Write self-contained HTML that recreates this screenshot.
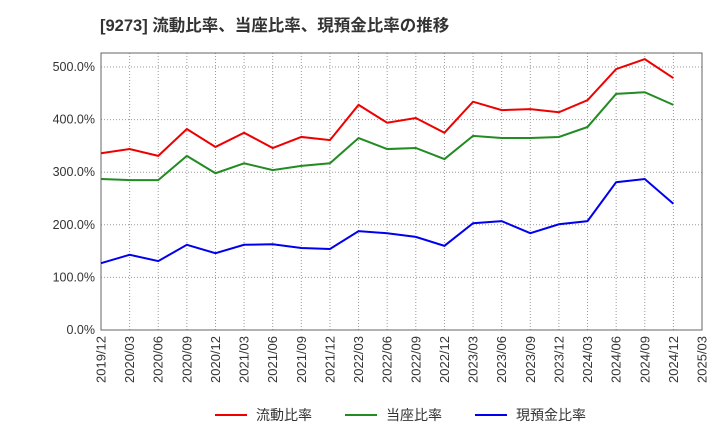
<!DOCTYPE html>
<html><head><meta charset="utf-8"><style>
body{margin:0;background:#fff;width:720px;height:440px;overflow:hidden;font-family:"Liberation Sans","Noto Sans CJK JP",sans-serif}
</style></head><body>
<svg id="chart" width="720" height="440" xmlns="http://www.w3.org/2000/svg" font-family="Liberation Sans, Noto Sans CJK JP, sans-serif">
<text x="100" y="31" font-size="16.5" font-weight="bold" fill="#333">[9273]  流動比率、当座比率、現預金比率の推移</text>
<g id="grid"></g><g id="axes"></g><g id="series"></g>
<g>
<line x1="215" y1="415" x2="247" y2="415" stroke="#e00" stroke-width="2"/><text x="256" y="420" font-size="14" fill="#333">流動比率</text>
<line x1="345" y1="415" x2="377" y2="415" stroke="#228b22" stroke-width="2"/><text x="386" y="420" font-size="14" fill="#333">当座比率</text>
<line x1="475" y1="415" x2="507" y2="415" stroke="#00e" stroke-width="2"/><text x="516" y="420" font-size="14" fill="#333">現預金比率</text>
</g>
</svg>
<script>
const categories=["2019/12","2020/03","2020/06","2020/09","2020/12","2021/03","2021/06","2021/09","2021/12","2022/03","2022/06","2022/09","2022/12","2023/03","2023/06","2023/09","2023/12","2024/03","2024/06","2024/09","2024/12","2025/03"];
const currentRatio=[336,344,331,382,348,375,346,367,361,428,394,403,375,434,418,420,414,437,496,515,479];
const quickRatio=[287,285,285,331,298,317,304,312,317,365,344,346,325,369,365,365,367,386,449,452,428];
const cashRatio=[127,143,131,162,146,162,163,156,154,188,184,177,160,203,207,184,201,207,281,287,240];
const yTicks=[0,100,200,300,400,500];
const L=101,R=702,T=53,B=330;
const xs=i=>L+(R-L)*i/(categories.length-1);
const ys=v=>B-(B-67)*v/500;
const NS="http://www.w3.org/2000/svg";
function mk(tag,attrs,parent){const e=document.createElementNS(NS,tag);for(const k in attrs)e.setAttribute(k,attrs[k]);document.getElementById(parent).appendChild(e);return e;}
yTicks.forEach(v=>{
 const l=mk("line",{x1:L,x2:R,y1:ys(v),y2:ys(v),stroke:"#999","stroke-dasharray":"1,2"},"grid");
 
 
 const t=mk("text",{x:L-6,y:ys(v)+4,"text-anchor":"end","font-size":"12.5",fill:"#333"},"axes");
 t.textContent=v.toFixed(1)+"%";
 
 
});
categories.forEach((c,i)=>{
 const l=mk("line",{x1:xs(i),x2:xs(i),y1:T,y2:B,stroke:"#999","stroke-dasharray":"1,2"},"grid");
 
 
 const t=mk("text",{x:0,y:0,transform:`translate(${xs(i)+4.5},${B+6}) rotate(-90)`,"text-anchor":"end","font-size":"13",fill:"#333"},"axes");
 t.textContent=c;
 
 
});
const fr=mk("rect",{x:L,y:T,width:R-L,height:B-T,fill:"none",stroke:"#666"},"axes");


[[currentRatio,"#e00","current-ratio-line"],[quickRatio,"#228b22","quick-ratio-line"],[cashRatio,"#00e","cash-ratio-line"]].forEach(([d,c,n])=>{
 const p=mk("polyline",{points:d.map((v,i)=>xs(i)+","+ys(v)).join(" "),fill:"none",stroke:c,"stroke-width":"2"},"series");
 
 
});
</script>
</body></html>
